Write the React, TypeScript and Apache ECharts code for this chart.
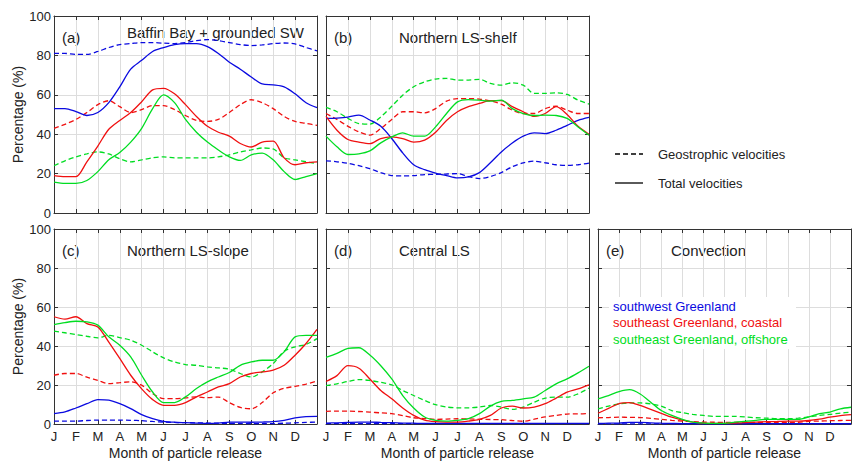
import React, { useEffect, useRef } from "react";
import * as echarts from "echarts";

// Month positions (in months since 1 Jan), semi-monthly samples
const MONTH_X = [0, 0.5, 1, 1.5, 2, 2.5, 3, 3.5, 4, 4.5, 5, 5.5, 6, 6.5, 7, 7.5, 8, 8.5, 9, 9.5, 10, 10.5, 11, 11.5, 12];
const MONTH_LABELS = ["J", "F", "M", "A", "M", "J", "J", "A", "S", "O", "N", "D"];
const Y_TICKS = [0, 20, 40, 60, 80, 100];

// (a) Baffin Bay + grounded SW
const aBlueTot = [53, 53, 51.5, 49.5, 51, 56, 64, 73, 77.5, 82, 84, 85.5, 86, 86, 84.5, 81, 76.5, 73, 69, 65.5, 65, 64, 60.5, 56, 53.5];
const aBlueGeo = [81, 81, 80.5, 80.5, 82, 84, 85.5, 86, 86.5, 86.5, 86.2, 86, 86.5, 87.5, 88, 87.5, 86.5, 85.5, 85, 85.3, 86, 86.3, 85.8, 84, 82.3];
const aRedTot = [19, 18.5, 18.5, 26, 34, 42.5, 47, 51, 56.5, 62.5, 63.3, 60.5, 55, 49, 44, 41, 39, 35.3, 33.5, 36, 36.5, 28, 24.5, 25.5, 26];
const aRedGeo = [43, 45, 47.5, 51, 55, 57, 54, 51, 52.5, 54.5, 54.5, 52.5, 49.5, 47, 46.5, 47.5, 51, 55, 57.5, 56, 53, 49, 46.5, 45.5, 44.5];
const aGreenTot = [15.7, 15, 15, 16.5, 21, 27, 30.7, 36, 43, 53, 60, 56, 47.5, 41, 36, 32, 28.5, 26.7, 29.5, 30.4, 27, 21, 17, 18.5, 20];
const aGreenGeo = [24, 26.5, 28.5, 30, 31, 30, 27.5, 26, 27, 28, 28.5, 28, 28, 28, 28, 28.5, 29.5, 31, 32, 33, 32.5, 28, 27, 26, 25];

// (b) Northern LS-shelf
const bBlueTot = [48, 48.2, 48.7, 49.7, 47.2, 44, 37.8, 30.5, 24.5, 22, 20.3, 19, 17.8, 18.3, 20.5, 25.5, 31, 35.5, 39, 40.7, 40.3, 42, 44.5, 47, 48.5];
const bBlueGeo = [26.5, 26, 25.2, 24, 22.5, 20.5, 19, 18.8, 19, 19.5, 19.6, 19.8, 20, 18.5, 17.5, 18.5, 20.5, 23.5, 25.5, 26.3, 25.5, 24.5, 24.2, 24.5, 25.3];
const bRedTot = [49, 42, 37.3, 36, 35.2, 37.8, 38.6, 37.8, 36, 37, 41, 47, 51.4, 54, 55.6, 57, 57, 54, 51.4, 49, 50.5, 54, 50, 44, 40];
const bRedGeo = [50.5, 47.5, 44, 41.2, 39.5, 42.9, 47.5, 51.4, 51.4, 50.8, 53, 56.8, 58.1, 58.1, 57.8, 56.9, 55.3, 52.2, 50.5, 50.5, 53, 54.2, 52.2, 50.5, 50.5];
const bGreenTot = [39, 33.6, 29.7, 30, 31.5, 35.6, 38.6, 40.7, 39, 39, 43.7, 50.5, 56.4, 57.6, 57.3, 56.8, 57.3, 53, 50.5, 49.5, 49.7, 49.5, 48, 43.7, 39.5];
const bGreenGeo = [53.6, 51.4, 48, 45.4, 45.1, 48.8, 54.2, 59.8, 64.1, 66.6, 68, 68.3, 67.5, 67.5, 67.8, 65.8, 64.9, 66.1, 64.9, 60.7, 60.7, 61, 60.2, 57.3, 55.3];

// (c) Northern LS-slope
const cBlueTot = [5.3, 6.2, 8.2, 10.4, 12.5, 12.2, 10.4, 7.9, 4.8, 2.7, 1.4, 0.9, 0.7, 0.5, 0.3, 0.5, 1, 1, 0.9, 1, 1.2, 1.9, 3.1, 3.8, 3.9];
const cBlueGeo = [1.5, 1.5, 1.5, 1.8, 2, 2, 2, 1.9, 1.7, 1.3, 1, 0.8, 0.7, 0.6, 0.5, 0.4, 0.3, 0.3, 0.2, 0.2, 0.2, 0.4, 0.6, 0.8, 1];
const cRedTot = [55, 53.8, 55, 51.5, 49.8, 42, 33.6, 25, 18, 12.5, 9.6, 9.6, 11, 13.9, 16.4, 19, 20.7, 24.1, 25.9, 26.7, 27.6, 30.1, 35.3, 41.3, 48.5];
const cRedGeo = [25, 25.9, 25.9, 24, 22.4, 20.7, 21.2, 21.6, 19.9, 15.6, 13, 13, 13.4, 13.9, 13.5, 13.8, 11, 8.5, 7.8, 11, 16, 18.3, 19.3, 20.5, 22];
const cGreenTot = [51, 52, 52.7, 52.4, 50.7, 44.7, 40.4, 34.4, 25, 16.4, 11, 11, 13.9, 18.2, 21.6, 24.1, 26.4, 30.1, 31.8, 32.7, 32.7, 37, 44.7, 45.5, 45.5];
const cGreenGeo = [47.6, 46.8, 45.9, 45, 44.2, 45.5, 44.3, 43, 40.4, 37, 33.9, 31.8, 30.5, 30.1, 29.3, 28.8, 28.1, 25.9, 24.1, 26.7, 31, 37.3, 39.6, 40.8, 43.8];

// (d) Central LS
const dBlueTot = [0.5, 0.6, 0.8, 1, 1, 0.8, 0.7, 0.5, 0.4, 0.3, 0.3, 0.3, 0.3, 0.3, 0.3, 0.3, 0.3, 0.3, 0.3, 0.3, 0.3, 0.3, 0.3, 0.3, 0.3];
const dBlueGeo = [0.2, 0.2, 0.2, 0.2, 0.2, 0.2, 0.2, 0.2, 0.2, 0.2, 0.2, 0.2, 0.2, 0.2, 0.2, 0.2, 0.2, 0.2, 0.2, 0.2, 0.2, 0.2, 0.2, 0.2, 0.2];
const dRedTot = [21.8, 24.8, 29.9, 28.6, 23.1, 17.2, 12.9, 8.2, 4.4, 2, 1.2, 1, 1, 1.5, 2.4, 4.4, 8.2, 9.2, 8.2, 8.7, 10.4, 13.3, 16.3, 18, 20.1];
const dRedGeo = [6.5, 6.6, 6.6, 6.4, 6.1, 5.7, 5.3, 4.3, 3.2, 2.8, 2.4, 2.5, 2.7, 2.6, 2.4, 2.3, 2.2, 1.8, 1.4, 2.5, 3.6, 4.4, 5.1, 5.2, 5.3];
const dGreenTot = [34.2, 36.2, 38.8, 39.1, 35.4, 29.9, 23.1, 14.6, 8.2, 3.6, 1.9, 1.5, 1.9, 2.7, 5.3, 9.2, 11.6, 12.1, 12.9, 13.8, 17.2, 20.6, 23.1, 26.2, 29.6];
const dGreenGeo = [19.7, 20.6, 21.8, 22.8, 22.3, 21.4, 20.1, 17.2, 14.6, 12.1, 9.9, 8.7, 8.3, 8.3, 8.7, 9.5, 8.7, 7.5, 8.7, 11.2, 13.3, 13.8, 13.8, 15.5, 18.4];

// (e) Convection
const eBlueTot = [0.3, 0.4, 0.5, 0.8, 0.8, 0.6, 0.4, 0.3, 0.2, 0.2, 0.2, 0.2, 0.2, 0.2, 0.2, 0.2, 0.2, 0.2, 0.2, 0.2, 0.2, 0.2, 0.2, 0.2, 0.2];
const eBlueGeo = [0.1, 0.1, 0.1, 0.1, 0.1, 0.1, 0.1, 0.1, 0.1, 0.1, 0.1, 0.1, 0.1, 0.1, 0.1, 0.1, 0.1, 0.1, 0.1, 0.1, 0.1, 0.1, 0.1, 0.1, 0.1];
const eRedTot = [5.5, 8, 10.5, 11, 9.5, 7.5, 5.5, 3.5, 2, 1, 0.5, 0.3, 0.3, 0.5, 0.7, 1, 1.2, 1.3, 1.5, 1.5, 1.8, 2.5, 3.5, 4.3, 4.8];
const eRedGeo = [3.2, 3.3, 3.5, 3.4, 3.3, 2.9, 2.4, 1.9, 1.5, 1.2, 1, 0.9, 0.8, 0.8, 0.8, 0.8, 0.8, 0.8, 0.8, 0.9, 1.4, 1.5, 1.7, 1.8, 1.9];
const eGreenTot = [12.9, 14.6, 16.6, 17.6, 15.4, 11.2, 6.9, 4.4, 2.4, 1, 0.5, 0.3, 0.3, 1, 1.4, 1.9, 2.4, 2.4, 2.4, 2.4, 3.6, 5.3, 6.1, 7.8, 8.6];
const eGreenGeo = [7.8, 9.2, 10.3, 10.8, 10.8, 10.3, 9.2, 6.9, 5.8, 4.9, 4.4, 3.9, 3.9, 3.9, 3.6, 3.2, 3, 2.7, 2.7, 3, 3.6, 4.4, 4.9, 5.6, 6.1];

const REGION_NAMES = ["southwest Greenland", "southeast Greenland, coastal", "southeast Greenland, offshore"];
const PANEL_LETTERS = ["(a)", "(b)", "(c)", "(d)", "(e)"];
const PANEL_TITLES = ["Baffin Bay + grounded SW", "Northern LS-shelf", "Northern LS-slope", "Central LS", "Convection"];
const VELOCITY_NAMES = ["Geostrophic velocities", "Total velocities"];

const BLUE = "#0a0ae0";
const RED = "#f01010";
const GREEN = "#00dd22";
const COLORS = [BLUE, RED, GREEN];
const AXIS = "#333333";
const GRIDLINE = "#dddddd";
const FONT = "Liberation Sans, Arial, sans-serif";
const TXT = "#222222";

const PANEL_SERIES = [
  { geo: [aBlueGeo, aRedGeo, aGreenGeo], tot: [aBlueTot, aRedTot, aGreenTot] },
  { geo: [bBlueGeo, bRedGeo, bGreenGeo], tot: [bBlueTot, bRedTot, bGreenTot] },
  { geo: [cBlueGeo, cRedGeo, cGreenGeo], tot: [cBlueTot, cRedTot, cGreenTot] },
  { geo: [dBlueGeo, dRedGeo, dGreenGeo], tot: [dBlueTot, dRedTot, dGreenTot] },
  { geo: [eBlueGeo, eRedGeo, eGreenGeo], tot: [eBlueTot, eRedTot, eGreenTot] },
];

// layout (pixels)
const GRIDS = [
  { left: 54, top: 16, width: 263, height: 197, xl: false, yl: true },
  { left: 326, top: 16, width: 263, height: 197, xl: false, yl: false },
  { left: 54, top: 229, width: 263, height: 195, xl: true, yl: true },
  { left: 326, top: 229, width: 263, height: 195, xl: true, yl: false },
  { left: 598, top: 229, width: 263, height: 195, xl: true, yl: false },
];

function zip(vals: number[]) {
  return MONTH_X.map((x, i) => [x, vals[i]]);
}

export default function App() {
  const ref = useRef<HTMLDivElement>(null);
  useEffect(() => {
    if (!ref.current) return;
    const chart = echarts.init(ref.current, null, { renderer: "svg" });

    const grid: any[] = [];
    const xAxis: any[] = [];
    const yAxis: any[] = [];
    const series: any[] = [];
    const graphic: any[] = [];

    GRIDS.forEach((g, p) => {
      grid.push({ left: g.left, top: g.top, width: g.width, height: g.height, containLabel: false });
      // bottom x
      xAxis.push({
        type: "value", gridIndex: p, min: 0, max: 12, interval: 1, position: "bottom",
        name: g.xl ? "Month of particle release" : "",
        nameLocation: "middle", nameGap: 22,
        nameTextStyle: { fontFamily: FONT, fontSize: 14, color: TXT },
        axisLine: { show: true, onZero: false, lineStyle: { color: AXIS, width: 1 } },
        axisTick: { show: true, inside: true, length: 4, lineStyle: { color: AXIS } },
        axisLabel: {
          show: g.xl, margin: 6, fontFamily: FONT, fontSize: 13, color: TXT,
          formatter: (v: number) => MONTH_LABELS[Math.round(v)] ?? "",
        },
        splitLine: { show: true, lineStyle: { color: GRIDLINE, width: 1 } },
      });
      // top x (box)
      xAxis.push({
        type: "value", gridIndex: p, min: 0, max: 12, interval: 1, position: "top",
        axisLine: { show: true, onZero: false, lineStyle: { color: AXIS, width: 1 } },
        axisTick: { show: true, inside: true, length: 4, lineStyle: { color: AXIS } },
        axisLabel: { show: false },
        splitLine: { show: false },
      });
      yAxis.push({
        type: "value", gridIndex: p, min: Y_TICKS[0], max: Y_TICKS[Y_TICKS.length - 1], interval: 20, position: "left",
        name: g.yl ? "Percentage (%)" : "",
        nameLocation: "middle", nameGap: 25, nameRotate: 90,
        nameTextStyle: { fontFamily: FONT, fontSize: 14, color: TXT },
        axisLine: { show: true, onZero: false, lineStyle: { color: AXIS, width: 1 } },
        axisTick: { show: true, inside: true, length: 4, lineStyle: { color: AXIS } },
        axisLabel: { show: g.yl, margin: 3, fontFamily: FONT, fontSize: 13, color: TXT },
        splitLine: { show: true, lineStyle: { color: GRIDLINE, width: 1 } },
      });
      yAxis.push({
        type: "value", gridIndex: p, min: 0, max: 100, interval: 20, position: "right",
        axisLine: { show: true, onZero: false, lineStyle: { color: AXIS, width: 1 } },
        axisTick: { show: true, inside: true, length: 4, lineStyle: { color: AXIS } },
        axisLabel: { show: false },
        splitLine: { show: false },
      });

      const ps = PANEL_SERIES[p];
      [0, 1, 2].forEach((c) => {
        series.push({
          type: "line", name: `${PANEL_TITLES[p]} ${REGION_NAMES[c]} ${VELOCITY_NAMES[0]}`,
          xAxisIndex: p * 2, yAxisIndex: p * 2, data: zip(ps.geo[c]),
          showSymbol: false, smooth: 0.3, clip: true,
          lineStyle: { color: COLORS[c], width: 1.3, type: [5, 3] },
        });
      });
      [0, 1, 2].forEach((c) => {
        series.push({
          type: "line", name: `${PANEL_TITLES[p]} ${REGION_NAMES[c]} ${VELOCITY_NAMES[1]}`,
          xAxisIndex: p * 2, yAxisIndex: p * 2, data: zip(ps.tot[c]),
          showSymbol: false, smooth: 0.3, clip: true,
          lineStyle: { color: COLORS[c], width: 1.3 },
        });
      });

      const titleY = p === 0 ? g.top + 16 : g.top + 21;
      graphic.push({
        type: "text", x: g.left + 8, y: g.top + 21,
        style: { text: PANEL_LETTERS[p], font: `15px ${FONT}`, fill: TXT, verticalAlign: "middle" },
      });
      graphic.push({
        type: "text", x: g.left + 73, y: titleY,
        style: { text: PANEL_TITLES[p], font: `15px ${FONT}`, fill: TXT, verticalAlign: "middle" },
      });
    });

    // velocity legend (upper right)
    graphic.push({
      type: "line", shape: { x1: 615, y1: 154, x2: 643, y2: 154 },
      style: { stroke: "#000", lineWidth: 1.3, lineDash: [5, 3] },
    });
    graphic.push({
      type: "text", x: 658, y: 154,
      style: { text: VELOCITY_NAMES[0], font: `13px ${FONT}`, fill: TXT, verticalAlign: "middle" },
    });
    graphic.push({
      type: "line", shape: { x1: 615, y1: 183, x2: 643, y2: 183 },
      style: { stroke: "#000", lineWidth: 1.3 },
    });
    graphic.push({
      type: "text", x: 658, y: 183,
      style: { text: VELOCITY_NAMES[1], font: `13px ${FONT}`, fill: TXT, verticalAlign: "middle" },
    });
    // region legend in panel (e), white box hiding grid lines
    graphic.push({
      type: "rect", shape: { x: 609, y: 297, width: 187, height: 52 },
      style: { fill: "#ffffff" }, z: 10,
    });
    REGION_NAMES.forEach((n, i) => {
      graphic.push({
        type: "text", x: 613, y: 306 + i * 16.5, z: 11,
        style: { text: n, font: `13px ${FONT}`, fill: COLORS[i], verticalAlign: "middle" },
      });
    });

    chart.setOption({
      animation: false,
      backgroundColor: "#ffffff",
      grid, xAxis, yAxis, series, graphic,
    });
    return () => chart.dispose();
  }, []);

  return (
    <div
      ref={ref}
      style={{ position: "fixed", left: 0, top: 0, width: 854, height: 462, background: "#fff" }}
    />
  );
}
